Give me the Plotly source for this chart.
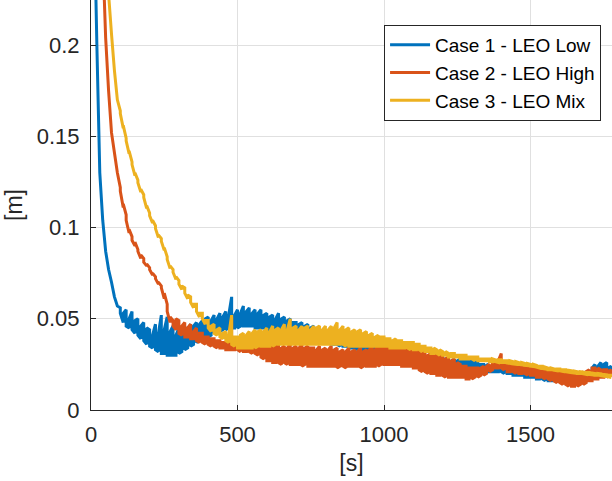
import plotly.graph_objects as go

# sample times (s), 10 s buckets
time_s = [
    0, 10, 20, 30, 40, 50, 60, 70, 80, 90,
    100, 110, 120, 130, 140, 150, 160, 170, 180, 190,
    200, 210, 220, 230, 240, 250, 260, 270, 280, 290,
    300, 310, 320, 330, 340, 350, 360, 370, 380, 390,
    400, 410, 420, 430, 440, 450, 460, 470, 480, 490,
    500, 510, 520, 530, 540, 550, 560, 570, 580, 590,
    600, 610, 620, 630, 640, 650, 660, 670, 680, 690,
    700, 710, 720, 730, 740, 750, 760, 770, 780, 790,
    800, 810, 820, 830, 840, 850, 860, 870, 880, 890,
    900, 910, 920, 930, 940, 950, 960, 970, 980, 990,
    1000, 1010, 1020, 1030, 1040, 1050, 1060, 1070, 1080, 1090,
    1100, 1110, 1120, 1130, 1140, 1150, 1160, 1170, 1180, 1190,
    1200, 1210, 1220, 1230, 1240, 1250, 1260, 1270, 1280, 1290,
    1300, 1310, 1320, 1330, 1340, 1350, 1360, 1370, 1380, 1390,
    1400, 1410, 1420, 1430, 1440, 1450, 1460, 1470, 1480, 1490,
    1500, 1510, 1520, 1530, 1540, 1550, 1560, 1570, 1580, 1590,
    1600, 1610, 1620, 1630, 1640, 1650, 1660, 1670, 1680, 1690,
    1700, 1710, 1720, 1730, 1740, 1750, 1760, 1770, 1780,
]

# per-bucket max / min of each error signal [m]
case1_max = [
    0.60, 0.28, 0.200, 0.130, 0.104, 0.087, 0.077, 0.070, 0.062, 0.057,
    0.056, 0.053, 0.055, 0.050, 0.054, 0.049, 0.050, 0.046, 0.048, 0.045,
    0.044, 0.041, 0.047, 0.042, 0.052, 0.044, 0.051, 0.043, 0.046, 0.041,
    0.045, 0.043, 0.046, 0.044, 0.047, 0.046, 0.048, 0.047, 0.049, 0.050,
    0.051, 0.049, 0.052, 0.050, 0.053, 0.051, 0.054, 0.052, 0.062, 0.052,
    0.055, 0.053, 0.057, 0.054, 0.056, 0.053, 0.055, 0.053, 0.055, 0.052,
    0.053, 0.051, 0.052, 0.050, 0.053, 0.050, 0.051, 0.049, 0.050, 0.048,
    0.048, 0.047, 0.048, 0.046, 0.047, 0.045, 0.046, 0.044, 0.045, 0.043,
    0.043, 0.042, 0.042, 0.041, 0.041, 0.040, 0.040, 0.039, 0.039, 0.038,
    0.038, 0.037, 0.037, 0.036, 0.036, 0.035, 0.035, 0.035, 0.034, 0.034,
    0.034, 0.033, 0.033, 0.033, 0.032, 0.032, 0.032, 0.032, 0.031, 0.031,
    0.031, 0.030, 0.030, 0.030, 0.029, 0.029, 0.029, 0.029, 0.028, 0.028,
    0.028, 0.028, 0.028, 0.027, 0.028, 0.027, 0.028, 0.027, 0.027, 0.027,
    0.027, 0.026, 0.026, 0.025, 0.025, 0.025, 0.024, 0.024, 0.024, 0.024,
    0.023, 0.023, 0.023, 0.022, 0.022, 0.022, 0.021, 0.021, 0.021, 0.021,
    0.021, 0.020, 0.020, 0.019, 0.019, 0.019, 0.019, 0.018, 0.018, 0.018,
    0.018, 0.018, 0.018, 0.018, 0.018, 0.018, 0.019, 0.019, 0.020, 0.020,
    0.021, 0.023, 0.025, 0.024, 0.026, 0.025, 0.026, 0.024, 0.023,
]
case1_min = [
    0.60, 0.28, 0.200, 0.130, 0.104, 0.087, 0.077, 0.070, 0.062, 0.057,
    0.053, 0.048, 0.046, 0.045, 0.044, 0.042, 0.041, 0.039, 0.038, 0.036,
    0.035, 0.034, 0.033, 0.032, 0.031, 0.031, 0.030, 0.030, 0.030, 0.030,
    0.031, 0.032, 0.033, 0.034, 0.035, 0.036, 0.037, 0.038, 0.039, 0.040,
    0.040, 0.041, 0.042, 0.043, 0.043, 0.044, 0.044, 0.045, 0.045, 0.045,
    0.045, 0.046, 0.046, 0.046, 0.046, 0.046, 0.045, 0.045, 0.045, 0.045,
    0.044, 0.044, 0.044, 0.044, 0.043, 0.043, 0.043, 0.042, 0.042, 0.042,
    0.041, 0.041, 0.040, 0.040, 0.040, 0.039, 0.039, 0.038, 0.038, 0.038,
    0.037, 0.037, 0.036, 0.036, 0.036, 0.035, 0.035, 0.035, 0.034, 0.034,
    0.034, 0.033, 0.033, 0.033, 0.032, 0.032, 0.032, 0.031, 0.031, 0.031,
    0.031, 0.030, 0.030, 0.030, 0.029, 0.029, 0.029, 0.029, 0.028, 0.028,
    0.028, 0.027, 0.027, 0.027, 0.026, 0.026, 0.026, 0.025, 0.025, 0.025,
    0.025, 0.024, 0.024, 0.024, 0.024, 0.023, 0.023, 0.023, 0.023, 0.023,
    0.023, 0.023, 0.022, 0.022, 0.022, 0.022, 0.021, 0.021, 0.021, 0.021,
    0.021, 0.020, 0.020, 0.020, 0.019, 0.019, 0.019, 0.019, 0.018, 0.018,
    0.018, 0.018, 0.017, 0.017, 0.017, 0.016, 0.016, 0.016, 0.016, 0.016,
    0.016, 0.016, 0.016, 0.016, 0.016, 0.016, 0.016, 0.016, 0.016, 0.017,
    0.017, 0.018, 0.019, 0.019, 0.020, 0.020, 0.020, 0.020, 0.020,
]

case2_max = [
    0.60, 0.48, 0.38, 0.31, 0.25, 0.204, 0.175, 0.152, 0.141, 0.130,
    0.122, 0.113, 0.107, 0.099, 0.095, 0.092, 0.088, 0.085, 0.083, 0.080,
    0.078, 0.075, 0.073, 0.070, 0.068, 0.064, 0.058, 0.051, 0.049, 0.050,
    0.049, 0.046, 0.048, 0.045, 0.047, 0.043, 0.045, 0.042, 0.042, 0.040,
    0.040, 0.039, 0.039, 0.038, 0.038, 0.037, 0.037, 0.036, 0.051, 0.036,
    0.036, 0.035, 0.035, 0.035, 0.035, 0.035, 0.035, 0.036, 0.036, 0.036,
    0.037, 0.035, 0.036, 0.035, 0.036, 0.034, 0.035, 0.034, 0.036, 0.034,
    0.035, 0.034, 0.036, 0.034, 0.035, 0.034, 0.034, 0.033, 0.035, 0.033,
    0.034, 0.033, 0.035, 0.033, 0.034, 0.032, 0.033, 0.032, 0.034, 0.032,
    0.033, 0.032, 0.034, 0.032, 0.033, 0.033, 0.035, 0.033, 0.036, 0.034,
    0.038, 0.035, 0.039, 0.035, 0.036, 0.034, 0.035, 0.034, 0.035, 0.033,
    0.034, 0.032, 0.033, 0.031, 0.032, 0.030, 0.031, 0.030, 0.031, 0.029,
    0.030, 0.028, 0.029, 0.027, 0.028, 0.026, 0.025, 0.024, 0.024, 0.023,
    0.023, 0.023, 0.023, 0.023, 0.024, 0.024, 0.025, 0.026, 0.027, 0.027,
    0.031, 0.026, 0.026, 0.025, 0.025, 0.025, 0.025, 0.025, 0.024, 0.024,
    0.024, 0.023, 0.023, 0.022, 0.022, 0.022, 0.021, 0.021, 0.021, 0.021,
    0.021, 0.020, 0.020, 0.020, 0.020, 0.020, 0.020, 0.020, 0.021, 0.021,
    0.022, 0.023, 0.023, 0.023, 0.022, 0.022, 0.022, 0.022, 0.021,
]
case2_min = [
    0.60, 0.48, 0.38, 0.31, 0.25, 0.204, 0.175, 0.152, 0.141, 0.130,
    0.120, 0.111, 0.104, 0.097, 0.093, 0.090, 0.087, 0.083, 0.081, 0.079,
    0.077, 0.074, 0.072, 0.069, 0.067, 0.061, 0.054, 0.048, 0.046, 0.044,
    0.042, 0.041, 0.040, 0.040, 0.039, 0.039, 0.038, 0.037, 0.037, 0.036,
    0.036, 0.035, 0.035, 0.034, 0.034, 0.034, 0.033, 0.033, 0.033, 0.033,
    0.033, 0.032, 0.032, 0.032, 0.032, 0.031, 0.031, 0.030, 0.029, 0.028,
    0.027, 0.027, 0.026, 0.026, 0.026, 0.025, 0.026, 0.025, 0.025, 0.025,
    0.025, 0.025, 0.024, 0.025, 0.024, 0.024, 0.024, 0.024, 0.024, 0.024,
    0.024, 0.024, 0.024, 0.024, 0.023, 0.024, 0.024, 0.023, 0.024, 0.024,
    0.024, 0.024, 0.023, 0.024, 0.024, 0.024, 0.024, 0.024, 0.024, 0.025,
    0.025, 0.025, 0.025, 0.025, 0.025, 0.025, 0.024, 0.024, 0.024, 0.024,
    0.023, 0.023, 0.022, 0.021, 0.021, 0.020, 0.020, 0.020, 0.019, 0.019,
    0.019, 0.018, 0.018, 0.018, 0.018, 0.018, 0.018, 0.018, 0.017, 0.017,
    0.017, 0.018, 0.018, 0.019, 0.019, 0.020, 0.021, 0.022, 0.023, 0.023,
    0.023, 0.022, 0.021, 0.021, 0.021, 0.020, 0.020, 0.020, 0.020, 0.019,
    0.019, 0.019, 0.018, 0.018, 0.018, 0.017, 0.017, 0.016, 0.016, 0.015,
    0.015, 0.014, 0.014, 0.013, 0.013, 0.013, 0.013, 0.014, 0.014, 0.015,
    0.016, 0.016, 0.017, 0.017, 0.018, 0.018, 0.018, 0.019, 0.019,
]

case3_max = [
    0.80, 0.66, 0.54, 0.44, 0.36, 0.29, 0.228, 0.206, 0.186, 0.170,
    0.164, 0.156, 0.149, 0.142, 0.136, 0.130, 0.126, 0.121, 0.118, 0.112,
    0.108, 0.104, 0.101, 0.096, 0.094, 0.089, 0.084, 0.079, 0.077, 0.073,
    0.071, 0.068, 0.067, 0.063, 0.062, 0.058, 0.058, 0.053, 0.053, 0.049,
    0.049, 0.046, 0.047, 0.044, 0.045, 0.042, 0.043, 0.041, 0.052, 0.040,
    0.040, 0.041, 0.042, 0.041, 0.043, 0.042, 0.044, 0.043, 0.044, 0.043,
    0.045, 0.043, 0.046, 0.044, 0.045, 0.044, 0.047, 0.044, 0.050, 0.045,
    0.046, 0.044, 0.046, 0.045, 0.046, 0.044, 0.046, 0.045, 0.046, 0.044,
    0.046, 0.044, 0.046, 0.045, 0.048, 0.044, 0.046, 0.044, 0.045, 0.043,
    0.044, 0.043, 0.044, 0.042, 0.043, 0.041, 0.042, 0.040, 0.041, 0.040,
    0.040, 0.039, 0.039, 0.038, 0.039, 0.038, 0.038, 0.037, 0.037, 0.037,
    0.037, 0.036, 0.036, 0.035, 0.035, 0.034, 0.034, 0.034, 0.033, 0.033,
    0.032, 0.032, 0.031, 0.031, 0.031, 0.030, 0.030, 0.030, 0.030, 0.029,
    0.029, 0.029, 0.029, 0.028, 0.028, 0.028, 0.028, 0.028, 0.0275, 0.0275,
    0.0275, 0.027, 0.027, 0.027, 0.0265, 0.0265, 0.026, 0.026, 0.0255, 0.0255,
    0.025, 0.025, 0.0245, 0.024, 0.024, 0.0235, 0.023, 0.023, 0.0225, 0.0225,
    0.0225, 0.022, 0.022, 0.0218, 0.0215, 0.0213, 0.021, 0.021, 0.0208, 0.0205,
    0.0205, 0.0203, 0.020, 0.020, 0.0198, 0.0195, 0.0193, 0.019, 0.019,
]
case3_min = [
    0.80, 0.66, 0.54, 0.44, 0.36, 0.29, 0.228, 0.206, 0.186, 0.170,
    0.1625, 0.1545, 0.1475, 0.1405, 0.1345, 0.1285, 0.1245, 0.1195, 0.1165, 0.1105,
    0.1065, 0.1025, 0.0995, 0.0945, 0.0925, 0.0875, 0.0825, 0.0775, 0.0755, 0.0715,
    0.069, 0.066, 0.064, 0.061, 0.059, 0.056, 0.054, 0.051, 0.050, 0.047,
    0.045, 0.043, 0.042, 0.041, 0.040, 0.039, 0.038, 0.037, 0.036, 0.035,
    0.034, 0.034, 0.034, 0.034, 0.034, 0.034, 0.034, 0.035, 0.035, 0.035,
    0.035, 0.035, 0.035, 0.036, 0.036, 0.036, 0.036, 0.036, 0.036, 0.036,
    0.036, 0.036, 0.036, 0.036, 0.036, 0.036, 0.036, 0.036, 0.036, 0.036,
    0.036, 0.036, 0.036, 0.036, 0.036, 0.036, 0.036, 0.035, 0.035, 0.035,
    0.035, 0.035, 0.035, 0.035, 0.035, 0.035, 0.035, 0.035, 0.035, 0.035,
    0.035, 0.035, 0.034, 0.034, 0.034, 0.034, 0.034, 0.034, 0.034, 0.033,
    0.033, 0.033, 0.033, 0.032, 0.032, 0.032, 0.031, 0.031, 0.031, 0.030,
    0.030, 0.030, 0.029, 0.029, 0.029, 0.029, 0.028, 0.028, 0.028, 0.028,
    0.028, 0.027, 0.027, 0.027, 0.027, 0.027, 0.0265, 0.0265, 0.0265, 0.026,
    0.026, 0.026, 0.0258, 0.0255, 0.0252, 0.025, 0.025, 0.0248, 0.0245, 0.0243,
    0.024, 0.0238, 0.0235, 0.023, 0.0228, 0.0225, 0.022, 0.022, 0.0218, 0.0215,
    0.0215, 0.0212, 0.021, 0.0207, 0.0205, 0.0203, 0.020, 0.020, 0.0198, 0.0195,
    0.0195, 0.0193, 0.019, 0.019, 0.0188, 0.0185, 0.0183, 0.018, 0.018,
]

series_names = ["Case 1 - LEO Low", "Case 2 - LEO High", "Case 3 - LEO Mix"]
series_colors = ["#0072BD", "#D95319", "#EDB120"]
x_ticks = [0, 500, 1000, 1500]
y_ticks = [0, 0.05, 0.1, 0.15, 0.2]
y_tick_text = ["0", "0.05", "0.1", "0.15", "0.2"]


def min_max_path(t, vmax, vmin):
    """Min/max decimated rendering: each bucket drawn as a vertical stroke."""
    xs, ys = [], []
    for i, (tt, hi, lo) in enumerate(zip(t, vmax, vmin)):
        xs += [tt, tt]
        ys += [hi, lo] if i % 2 == 0 else [lo, hi]
    return xs, ys


fig = go.Figure()
for name, vmax, vmin, col in zip(series_names,
                                 [case1_max, case2_max, case3_max],
                                 [case1_min, case2_min, case3_min],
                                 series_colors):
    xs, ys = min_max_path(time_s, vmax, vmin)
    fig.add_trace(go.Scatter(x=xs, y=ys, mode="lines", name=name,
                             line=dict(color=col, width=3, simplify=False)))

font_family = "Liberation Sans, Arial, sans-serif"
axis_color = "#262626"
grid_color = "#e0e0e0"

fig.update_layout(
    width=612, height=481,
    margin=dict(l=91, r=0, t=0, b=71),
    paper_bgcolor="white", plot_bgcolor="white",
    font=dict(family=font_family, size=22, color=axis_color),
    showlegend=True,
    legend=dict(
        x=0.979, y=0.939, xanchor="right", yanchor="top",
        bgcolor="white", bordercolor=axis_color, borderwidth=1,
        font=dict(family=font_family, size=19, color="black"),
        tracegroupgap=0, itemwidth=40,
    ),
    xaxis=dict(
        range=[0, 1778], tickvals=x_ticks, ticktext=[str(v) for v in x_ticks],
        showgrid=True, gridcolor=grid_color, gridwidth=1,
        showline=True, linecolor=axis_color, linewidth=1,
        ticks="inside", ticklen=5, tickcolor=axis_color,
        zeroline=False, tickfont=dict(size=22, color=axis_color),
        ticklabelstandoff=5,
        title=dict(text="[s]", font=dict(size=23, color=axis_color), standoff=8),
    ),
    yaxis=dict(
        range=[0, 0.2247], tickvals=y_ticks, ticktext=y_tick_text,
        showgrid=True, gridcolor=grid_color, gridwidth=1,
        showline=True, linecolor=axis_color, linewidth=1,
        ticks="inside", ticklen=5, tickcolor=axis_color,
        zeroline=False, tickfont=dict(size=22, color=axis_color),
        ticklabelstandoff=6,
        title=dict(text="[m]", font=dict(size=23, color=axis_color), standoff=7),
    ),
)

fig.write_html("out.html")
